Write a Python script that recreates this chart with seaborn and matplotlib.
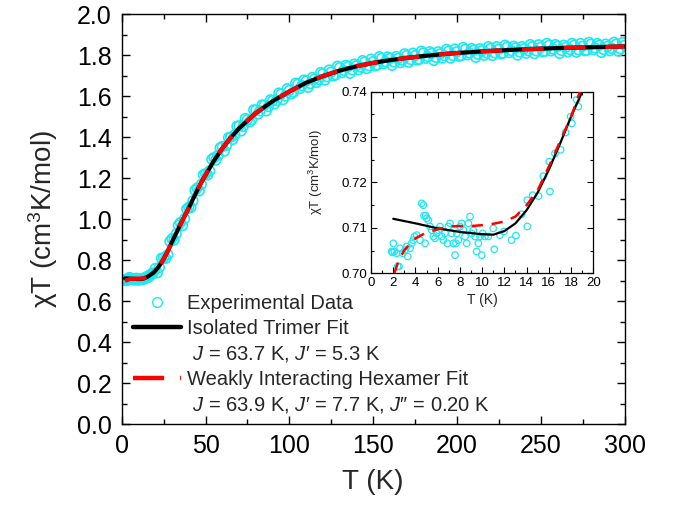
import numpy as np
import pandas as pd
import seaborn as sns
import matplotlib
matplotlib.use("Agg")  # no display
import matplotlib.pyplot as plt
from matplotlib.lines import Line2D
from matplotlib.ticker import MultipleLocator, FormatStrFormatter

# ---- data ----
# experimental points below 20 K (shown in both panels)
T_low = [1.92, 2.01, 1.86, 2.10, 2.31, 2.40, 2.52, 2.61, 2.85, 3.06, 3.21, 3.30, 3.51, 3.66,
         3.81, 3.90, 4.11, 4.41, 4.56, 4.71, 4.77, 4.92, 5.01, 5.16, 4.86, 5.31, 5.46, 5.61,
         5.76, 5.91, 6.06, 6.21, 6.36, 6.51, 6.66, 6.87, 6.96, 7.11, 7.26, 7.41, 7.56, 7.65,
         7.71, 7.86, 8.01, 8.16, 8.31, 8.46, 8.61, 8.76, 8.91, 9.06, 9.21, 9.36, 9.51, 9.66,
         9.81, 9.96, 10.05, 10.25, 10.55, 11.00, 11.09, 11.60, 11.96, 12.65, 13.04, 13.55,
         14.06, 14.06, 14.54, 15.08, 15.50, 16.04, 16.10, 16.55, 17.06, 17.51, 17.96, 18.08,
         18.50, 18.65]
chi_low = [0.7046, 0.7066, 0.7048, 0.7048, 0.7044, 0.7015, 0.7015, 0.7055, 0.7044, 0.7051,
           0.7059, 0.7037, 0.7055, 0.7066, 0.7073, 0.7081, 0.7084, 0.7073, 0.7154, 0.7150,
           0.7127, 0.7127, 0.7121, 0.7117, 0.7066, 0.7103, 0.7095, 0.7081, 0.7077, 0.7088,
           0.7095, 0.7103, 0.7081, 0.7073, 0.7088, 0.7066, 0.7103, 0.7110, 0.7088, 0.7066,
           0.7040, 0.7066, 0.7088, 0.7073, 0.7103, 0.7110, 0.7095, 0.7081, 0.7066, 0.7110,
           0.7125, 0.7088, 0.7095, 0.7081, 0.7048, 0.7066, 0.7081, 0.7040, 0.7088, 0.7081,
           0.7081, 0.7099, 0.7053, 0.7084, 0.7092, 0.7073, 0.7083, 0.7130, 0.7161, 0.7103,
           0.7172, 0.7170, 0.7214, 0.7246, 0.7180, 0.7264, 0.7272, 0.7310, 0.7345, 0.7330,
           0.7382, 0.7367]

# experimental points from 20 K up, first run
T_high = [20, 22.5, 25, 27.5, 30, 32.5, 35, 37.5, 40, 42.5, 45, 47.5, 50, 52.5, 55, 57.5,
          60, 62.5, 65, 67.5, 70, 72.5, 75, 77.5, 80, 82.5, 85, 87.5, 90, 92.5, 95, 97.5,
          100, 102.5, 105, 107.5, 110, 112.5, 115, 117.5, 120, 122.5, 125, 127.5, 130, 132.5,
          135, 137.5, 140, 142.5, 145, 147.5, 150, 152.5, 155, 157.5, 160, 162.5, 165, 167.5,
          170, 172.5, 175, 177.5, 180, 182.5, 185, 187.5, 190, 192.5, 195, 197.5, 200, 202.5,
          205, 207.5, 210, 212.5, 215, 217.5, 220, 222.5, 225, 227.5, 230, 232.5, 235, 237.5,
          240, 242.5, 245, 247.5, 250, 252.5, 255, 257.5, 260, 262.5, 265, 267.5, 270, 272.5,
          275, 277.5, 280, 282.5, 285, 287.5, 290, 292.5, 295, 297.5, 300]
chi_high = [0.760, 0.765, 0.812, 0.828, 0.905, 0.928, 0.984, 1.003, 1.058, 1.090, 1.152, 1.170,
            1.221, 1.236, 1.300, 1.312, 1.354, 1.360, 1.400, 1.412, 1.455, 1.452, 1.486, 1.485,
            1.532, 1.528, 1.556, 1.549, 1.578, 1.578, 1.610, 1.600, 1.628, 1.619, 1.659, 1.651,
            1.674, 1.661, 1.684, 1.681, 1.709, 1.694, 1.717, 1.704, 1.739, 1.725, 1.744, 1.728,
            1.748, 1.741, 1.766, 1.748, 1.768, 1.751, 1.784, 1.768, 1.784, 1.766, 1.784, 1.775,
            1.798, 1.778, 1.797, 1.779, 1.810, 1.793, 1.808, 1.789, 1.806, 1.797, 1.819, 1.798,
            1.816, 1.797, 1.828, 1.810, 1.824, 1.804, 1.821, 1.811, 1.832, 1.811, 1.828, 1.809,
            1.839, 1.821, 1.835, 1.815, 1.831, 1.821, 1.841, 1.820, 1.837, 1.818, 1.847, 1.829,
            1.843, 1.822, 1.838, 1.827, 1.848, 1.826, 1.843, 1.823, 1.853, 1.834, 1.848, 1.827,
            1.843, 1.832, 1.853, 1.831, 1.848]

# experimental points from 20 K up, interleaved second run
T_high2 = [21.25, 23.75, 26.25, 28.75, 31.25, 33.75, 36.25, 38.75, 41.25, 43.75, 46.25, 48.75,
           51.25, 53.75, 56.25, 58.75, 61.25, 63.75, 66.25, 68.75, 71.25, 73.75, 76.25, 78.75,
           81.25, 83.75, 86.25, 88.75, 91.25, 93.75, 96.25, 98.75, 101.25, 103.75, 106.25,
           108.75, 111.25, 113.75, 116.25, 118.75, 121.25, 123.75, 126.25, 128.75, 131.25,
           133.75, 136.25, 138.75, 141.25, 143.75, 146.25, 148.75, 151.25, 153.75, 156.25,
           158.75, 161.25, 163.75, 166.25, 168.75, 171.25, 173.75, 176.25, 178.75, 181.25,
           183.75, 186.25, 188.75, 191.25, 193.75, 196.25, 198.75, 201.25, 203.75, 206.25,
           208.75, 211.25, 213.75, 216.25, 218.75, 221.25, 223.75, 226.25, 228.75, 231.25,
           233.75, 236.25, 238.75, 241.25, 243.75, 246.25, 248.75, 251.25, 253.75, 256.25,
           258.75, 261.25, 263.75, 266.25, 268.75, 271.25, 273.75, 276.25, 278.75, 281.25,
           283.75, 286.25, 288.75, 291.25, 293.75, 296.25, 298.75]
chi_high2 = [0.739, 0.810, 0.809, 0.892, 0.899, 0.971, 0.969, 1.049, 1.057, 1.141, 1.138, 1.217,
             1.216, 1.292, 1.288, 1.348, 1.332, 1.398, 1.389, 1.453, 1.430, 1.491, 1.474, 1.533,
             1.512, 1.557, 1.528, 1.582, 1.562, 1.615, 1.583, 1.636, 1.611, 1.663, 1.637, 1.678,
             1.643, 1.691, 1.666, 1.715, 1.678, 1.727, 1.698, 1.746, 1.714, 1.750, 1.711, 1.756,
             1.728, 1.773, 1.734, 1.780, 1.747, 1.792, 1.758, 1.791, 1.750, 1.793, 1.763, 1.806,
             1.765, 1.809, 1.776, 1.819, 1.784, 1.816, 1.774, 1.816, 1.785, 1.828, 1.785, 1.829,
             1.794, 1.837, 1.801, 1.832, 1.789, 1.831, 1.799, 1.841, 1.798, 1.841, 1.806, 1.848,
             1.812, 1.843, 1.800, 1.841, 1.809, 1.851, 1.807, 1.850, 1.815, 1.857, 1.820, 1.851,
             1.808, 1.848, 1.816, 1.857, 1.814, 1.856, 1.821, 1.862, 1.826, 1.856, 1.813, 1.853,
             1.821, 1.862, 1.819, 1.861]

# fits over the full range
T_fit = [2, 5, 8, 11, 13, 15, 17, 19, 21, 23, 25, 27.5, 30, 32.5, 35, 37.5, 40, 42.5, 45,
         47.5, 50, 55, 60, 65, 70, 80, 90, 100, 110, 120, 130, 140, 150, 160, 170, 180, 190,
         200, 220, 240, 260, 280, 300]
trimer_fit = [0.712, 0.7106, 0.7093, 0.7085, 0.711, 0.7178, 0.7285, 0.740, 0.758, 0.780,
              0.806, 0.845, 0.890, 0.932, 0.975, 1.015, 1.055, 1.098, 1.140, 1.180, 1.215,
              1.285, 1.345, 1.397, 1.443, 1.517, 1.575, 1.622, 1.665, 1.697, 1.724, 1.745,
              1.762, 1.775, 1.786, 1.795, 1.803, 1.810, 1.820, 1.828, 1.834, 1.838, 1.842]
hexamer_fit = [0.700, 0.709, 0.7104, 0.7109, 0.7125, 0.7183, 0.729, 0.742, 0.760, 0.781,
               0.806, 0.845, 0.890, 0.932, 0.975, 1.015, 1.055, 1.098, 1.140, 1.180, 1.215,
               1.285, 1.345, 1.397, 1.443, 1.517, 1.575, 1.622, 1.665, 1.697, 1.724, 1.745,
               1.762, 1.775, 1.786, 1.795, 1.803, 1.810, 1.820, 1.828, 1.834, 1.838, 1.842]

# fits in the low-T inset
T_trimer_in = [2, 4, 6, 8, 10, 11, 12, 13, 14, 15, 16, 17, 18, 19, 19.5]
trimer_in = [0.7120, 0.7110, 0.7099, 0.7091, 0.7086, 0.7085, 0.7093, 0.7110, 0.7139, 0.7178,
             0.7228, 0.7285, 0.7345, 0.7400, 0.7430]
T_hexamer_in = [2.1, 2.5, 3, 4, 5, 6, 7, 8, 9, 10, 11, 12, 13, 14, 15, 16, 17, 18, 18.8, 19.3]
hexamer_in = [0.7000, 0.7029, 0.7051, 0.7077, 0.7090, 0.7097, 0.7103, 0.7104, 0.7104, 0.7106,
              0.7109, 0.7114, 0.7125, 0.7150, 0.7183, 0.7235, 0.7290, 0.7345, 0.7400, 0.7430]

legend_labels = ["Experimental Data",
                 "Isolated Trimer Fit",
                 " $J$ = 63.7 K, $J$\u2032 = 5.3 K",
                 "Weakly Interacting Hexamer Fit",
                 " $J$ = 63.9 K, $J$\u2032 = 7.7 K, $J$\u2033 = 0.20 K"]

CYAN = "#1ee8f2"

sns.set_style("ticks")
plt.rcParams["font.family"] = ["Liberation Sans", "DejaVu Sans"]
plt.rcParams["mathtext.fontset"] = "custom"
plt.rcParams["mathtext.rm"] = "Liberation Sans"
plt.rcParams["mathtext.it"] = "Liberation Sans:italic"

df_main = pd.DataFrame({"T": T_low + T_high + T_high2,
                        "chi": chi_low + chi_high + chi_high2})
df_low = pd.DataFrame({"T": T_low, "chi": chi_low})

fig = plt.figure(figsize=(6.8, 5.11), dpi=100)
ax = fig.add_axes([0.179, 0.1693, 0.7394, 0.8033])

sns.scatterplot(data=df_main, x="T", y="chi", ax=ax, marker="o", s=48,
                facecolor="none", edgecolor=CYAN, linewidth=1.2, zorder=2)
sns.lineplot(x=T_fit, y=trimer_fit, ax=ax, color="black", lw=3.0,
             estimator=None, sort=False, zorder=3)
sns.lineplot(x=T_fit, y=hexamer_fit, ax=ax, color="red", lw=3.0,
             estimator=None, sort=False, zorder=4)
ax.lines[-1].set_dashes((5.2, 4.8))

ax.set_xlim(0, 300)
ax.set_ylim(0, 2.0)
ax.xaxis.set_major_locator(MultipleLocator(50))
ax.xaxis.set_minor_locator(MultipleLocator(25))
ax.yaxis.set_major_locator(MultipleLocator(0.2))
ax.yaxis.set_minor_locator(MultipleLocator(0.1))
ax.yaxis.set_major_formatter(FormatStrFormatter("%.1f"))
ax.tick_params(which="both", direction="in", top=True, right=True, width=1.0,
               colors="black", labelsize=18)
ax.tick_params(which="major", length=6, pad=7)
ax.tick_params(which="minor", length=3.5)
for sp in ax.spines.values():
    sp.set_linewidth(1.0)
    sp.set_color("black")
ax.set_xlabel("T (K)", fontsize=20, labelpad=8)
ax.set_ylabel("\u03c7T (cm$^3$K/mol)", fontsize=20, labelpad=12)

handles = [Line2D([], [], ls="none", marker="o", mfc="none", mec=CYAN, ms=7, mew=1.0),
           Line2D([], [], color="black", lw=3.2),
           Line2D([], [], color="none"),
           Line2D([], [], color="red", lw=3.2, dashes=(7, 3.6)),
           Line2D([], [], color="none")]
ax.legend(handles, legend_labels, loc="upper left", bbox_to_anchor=(0.022, 0.318),
          frameon=False, borderpad=0, borderaxespad=0, handlelength=2.4,
          handletextpad=0.27, labelspacing=0.30, fontsize=14.5)

# ---- inset ----
axin = fig.add_axes([0.5456, 0.4652, 0.3269, 0.3554])
axin.set_facecolor("white")
sns.scatterplot(data=df_low, x="T", y="chi", ax=axin, marker="o", s=22,
                facecolor="none", edgecolor=CYAN, linewidth=0.9, zorder=2)
sns.lineplot(x=T_trimer_in, y=trimer_in, ax=axin, color="black", lw=1.6,
             estimator=None, sort=False, zorder=3)
sns.lineplot(x=T_hexamer_in, y=hexamer_in, ax=axin, color="red", lw=1.8,
             estimator=None, sort=False, zorder=4)
axin.lines[-1].set_dashes((4.5, 3.5))
axin.set_xlim(0, 20)
axin.set_ylim(0.70, 0.74)
axin.xaxis.set_major_locator(MultipleLocator(2))
axin.xaxis.set_minor_locator(MultipleLocator(1))
axin.yaxis.set_major_locator(MultipleLocator(0.01))
axin.yaxis.set_minor_locator(MultipleLocator(0.005))
axin.yaxis.set_major_formatter(FormatStrFormatter("%.2f"))
axin.tick_params(which="both", direction="in", top=True, right=True, width=0.8,
                 colors="black", labelsize=9.5, pad=2.5)
axin.tick_params(which="major", length=4)
axin.tick_params(which="minor", length=2)
for sp in axin.spines.values():
    sp.set_linewidth(0.9)
    sp.set_color("black")
axin.set_xlabel("T (K)", fontsize=10, labelpad=3)
axin.set_ylabel("\u03c7T (cm$^3$K/mol)", fontsize=9.5)
axin.yaxis.set_label_coords(-0.207, 0.56)

fig.savefig("out.png", dpi=100)
